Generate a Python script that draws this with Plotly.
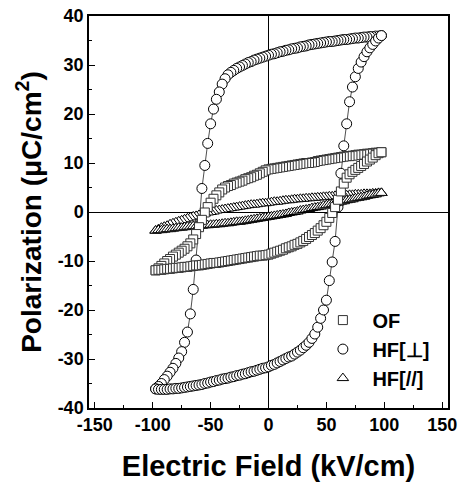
import plotly.graph_objects as go

# ---------------- data ----------------
# Electric field sweep, descending branch (kV/cm); the ascending branch is the same sweep reversed
field_down = [
    97.5, 95, 92.5, 90, 87.5, 85, 82.5, 80, 77.5, 75,
    72.5, 70, 67.5, 65, 62.5, 60, 57.5, 55, 52.5, 50,
    47.5, 45, 42.5, 40, 37.5, 35, 32.5, 30, 27.5, 25,
    22.5, 20, 17.5, 15, 12.5, 10, 7.5, 5, 2.5, 0,
    -2.5, -5, -7.5, -10, -12.5, -15, -17.5, -20, -22.5, -25,
    -27.5, -30, -32.5, -35, -37.5, -40, -42.5, -45, -47.5, -50,
    -52.5, -55, -57.5, -60, -62.5, -65, -67.5, -70, -72.5, -75,
    -77.5, -80, -82.5, -85, -87.5, -90, -92.5, -95, -97.5,
]
field_up = list(reversed(field_down))

# HF[perp] (circles)
hf_perp_down = [
    36.0, 35.9, 35.9, 35.8, 35.8, 35.7, 35.7, 35.6, 35.5, 35.5,
    35.4, 35.3, 35.2, 35.2, 35.1, 35.0, 34.9, 34.8, 34.8, 34.7,
    34.6, 34.5, 34.4, 34.3, 34.2, 34.1, 33.9, 33.8, 33.7, 33.5,
    33.4, 33.3, 33.1, 33.0, 32.8, 32.7, 32.5, 32.3, 32.2, 32.0,
    31.8, 31.6, 31.4, 31.2, 31.0, 30.7, 30.5, 30.2, 29.9, 29.6,
    29.3, 28.9, 28.5, 28.0, 27.2, 26.1, 24.5, 23.0, 21.0, 18.0,
    14.0, 9.5, 4.8, -2.5, -9.8, -15.8, -20.8, -24.5, -26.6, -28.5,
    -29.8, -30.9, -31.9, -32.7, -33.5, -34.2, -35.0, -35.6, -36.1,
]
hf_perp_up = [
    -36.1, -36.2, -36.2, -36.2, -36.2, -36.1, -36.1, -36.0, -36.0, -35.9,
    -35.8, -35.7, -35.6, -35.5, -35.4, -35.3, -35.2, -35.0, -34.9, -34.7,
    -34.6, -34.4, -34.3, -34.1, -34.0, -33.9, -33.7, -33.6, -33.4, -33.3,
    -33.1, -33.0, -32.8, -32.6, -32.5, -32.3, -32.1, -31.9, -31.8, -31.6,
    -31.3, -31.1, -30.8, -30.5, -30.2, -29.9, -29.6, -29.4, -29.0, -28.6,
    -28.2, -27.7, -27.2, -26.6, -25.8, -24.9, -23.5, -21.7, -20.0, -18.0,
    -14.0, -10.2, -6.0, 1.0, 7.9, 13.5, 18.0, 22.5, 25.5, 27.6,
    29.3, 30.6, 31.7, 32.7, 33.5, 34.2, 34.9, 35.5, 36.0,
]

# OF (squares)
of_down = [
    12.2, 12.1, 12.1, 12.0, 11.9, 11.9, 11.8, 11.7, 11.7, 11.6,
    11.5, 11.4, 11.4, 11.3, 11.2, 11.1, 11.0, 10.9, 10.8, 10.7,
    10.6, 10.5, 10.4, 10.2, 10.1, 10.0, 10.0, 9.9, 9.8, 9.7,
    9.6, 9.5, 9.4, 9.3, 9.2, 9.1, 9.0, 8.9, 8.8, 8.7,
    8.5, 8.2, 7.9, 7.6, 7.4, 7.1, 6.9, 6.7, 6.4, 6.2,
    6.0, 5.8, 5.5, 5.3, 5.0, 4.6, 4.0, 3.4, 2.7, 1.9,
    1.0, -0.1, -1.6, -3.1, -4.5, -5.6, -6.4, -7.0, -7.5, -7.9,
    -8.3, -8.7, -9.1, -9.6, -10.0, -10.5, -11.0, -11.5, -11.9,
]
of_up = [
    -11.9, -11.8, -11.8, -11.7, -11.6, -11.6, -11.5, -11.4, -11.4, -11.3,
    -11.2, -11.2, -11.1, -11.0, -10.9, -10.9, -10.8, -10.7, -10.6, -10.5,
    -10.4, -10.4, -10.3, -10.2, -10.1, -10.0, -9.9, -9.8, -9.7, -9.6,
    -9.5, -9.4, -9.3, -9.2, -9.1, -9.0, -8.9, -8.9, -8.8, -8.7,
    -8.5, -8.3, -8.1, -7.9, -7.7, -7.4, -7.2, -7.0, -6.7, -6.5,
    -6.2, -5.9, -5.5, -5.1, -4.7, -4.3, -3.8, -3.3, -2.7, -2.0,
    -1.2, -0.2, 1.0, 2.5, 4.2, 5.8, 7.0, 7.7, 8.2, 8.6,
    9.0, 9.4, 9.8, 10.3, 10.7, 11.1, 11.6, 12.0, 12.2,
]

# HF[//] (triangles)
hf_par_down = [
    3.9, 3.9, 3.8, 3.8, 3.7, 3.7, 3.7, 3.6, 3.6, 3.6,
    3.5, 3.5, 3.4, 3.4, 3.3, 3.3, 3.3, 3.2, 3.2, 3.1,
    3.1, 3.0, 3.0, 2.9, 2.9, 2.8, 2.8, 2.7, 2.7, 2.6,
    2.6, 2.5, 2.4, 2.4, 2.3, 2.2, 2.1, 2.1, 2.0, 1.9,
    1.8, 1.8, 1.7, 1.6, 1.5, 1.5, 1.4, 1.3, 1.2, 1.1,
    1.0, 0.9, 0.8, 0.7, 0.6, 0.5, 0.4, 0.3, 0.1, 0.0,
    -0.1, -0.3, -0.4, -0.6, -0.8, -0.9, -1.1, -1.3, -1.5, -1.7,
    -1.9, -2.1, -2.3, -2.5, -2.8, -3.0, -3.2, -3.5, -3.8,
]
hf_par_up = [
    -3.8, -3.7, -3.7, -3.6, -3.5, -3.5, -3.4, -3.3, -3.2, -3.2,
    -3.1, -3.0, -3.0, -2.9, -2.9, -2.8, -2.8, -2.7, -2.7, -2.6,
    -2.6, -2.5, -2.5, -2.4, -2.3, -2.3, -2.2, -2.1, -2.0, -2.0,
    -1.9, -1.8, -1.7, -1.6, -1.5, -1.4, -1.3, -1.2, -1.1, -1.0,
    -0.9, -0.8, -0.7, -0.6, -0.5, -0.4, -0.2, -0.1, 0.0, 0.1,
    0.3, 0.4, 0.5, 0.6, 0.8, 0.9, 1.0, 1.1, 1.3, 1.4,
    1.5, 1.6, 1.8, 1.9, 2.1, 2.2, 2.4, 2.5, 2.6, 2.8,
    2.9, 3.0, 3.1, 3.3, 3.4, 3.5, 3.6, 3.8, 3.9,
]

x_ticks = [-150, -100, -50, 0, 50, 100, 150]
x_tick_labels = ["-150", "-100", "-50", "0", "50", "100", "150"]
y_ticks = [-40, -30, -20, -10, 0, 10, 20, 30, 40]
y_tick_labels = ["-40", "-30", "-20", "-10", "0", "10", "20", "30", "40"]

# ---------------- figure ----------------
FONT = "Liberation Sans, Arial, Helvetica, sans-serif"
field_loop = field_down + field_up

# drawing order: circles at the bottom, then triangles, squares on top
series = [
    ("HF[\u22a5]", hf_perp_down + hf_perp_up, "circle", 10, "#000000", 2),
    ("HF[//]", hf_par_down + hf_par_up, "triangle-up", 10, "#000000", 3),
    ("OF", of_down + of_up, "square", 9, "#333333", 1),
]

fig = go.Figure()
for name, pol, sym, size, edge, rank in series:
    fig.add_trace(go.Scatter(
        x=field_loop, y=pol, mode="lines", showlegend=False, hoverinfo="skip",
        line=dict(color="#222222", width=0.8),
    ))
    fig.add_trace(go.Scatter(
        x=field_loop, y=pol, mode="markers", name=name, legendrank=rank,
        marker=dict(symbol=sym, size=size, color="white",
                    line=dict(color=edge, width=1)),
    ))

axis_common = dict(
    showgrid=False, showline=True, linecolor="black", linewidth=1.5, mirror=True,
    ticks="inside", ticklen=6, tickwidth=1, tickcolor="black",
    zeroline=True, zerolinecolor="black", zerolinewidth=1,
    tickfont=dict(family=FONT, size=18, color="black", weight="bold"),
    automargin=False,
)

fig.update_layout(
    width=459, height=482,
    margin=dict(l=89, r=11, t=16, b=74),
    paper_bgcolor="white", plot_bgcolor="white",
    xaxis=dict(
        range=[-155, 155], tickmode="array", tickvals=x_ticks, ticktext=x_tick_labels,
        minor=dict(tickvals=[-125, -75, -25, 25, 75, 125], ticks="inside", ticklen=3, tickcolor="black"),
        title=dict(text="Electric Field (kV/cm)", standoff=22,
                   font=dict(family=FONT, size=29, color="black", weight="bold")),
        **axis_common,
    ),
    yaxis=dict(
        range=[-40, 40], tickmode="array", tickvals=y_ticks, ticktext=y_tick_labels,
        minor=dict(tickvals=[-35, -25, -15, -5, 5, 15, 25, 35], ticks="inside", ticklen=3, tickcolor="black"),
        title=dict(text="Polarization (\u03bcC/cm<sup>2</sup>)", standoff=8,
                   font=dict(family=FONT, size=28, color="black", weight="bold")),
        **axis_common,
    ),
    legend=dict(
        x=0.625, y=0.274, xanchor="left", yanchor="top",
        bgcolor="rgba(0,0,0,0)", borderwidth=0,
        font=dict(family=FONT, size=20, color="black", weight="bold"),
        itemwidth=49,
    ),
)

fig.write_html("out.html")
